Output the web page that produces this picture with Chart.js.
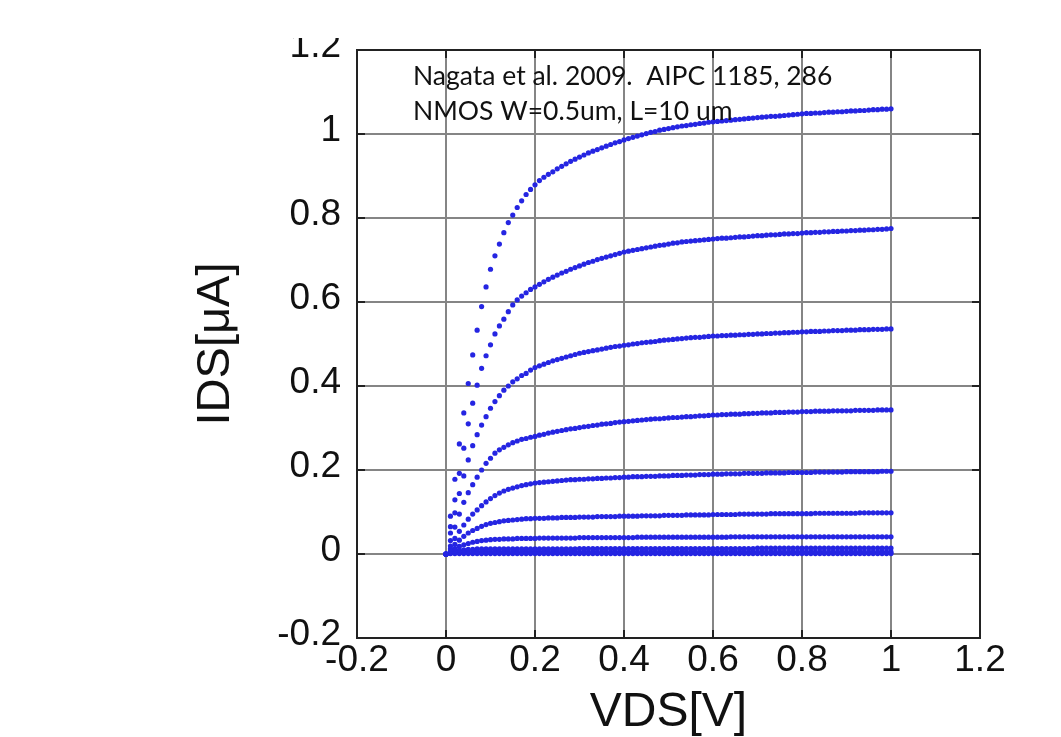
<!DOCTYPE html>
<html><head><meta charset="utf-8">
<script src="https://cdn.jsdelivr.net/npm/chart.js@4.4.0/dist/chart.umd.min.js"></script>
<style>html,body{margin:0;padding:0;background:#fff;}#wrap{width:1061px;height:737px;}</style>
</head><body><div id="wrap"><canvas id="c" width="1061" height="737"></canvas></div>
<script>
const vds = [0,0.01,0.02,0.03,0.04,0.05,0.06,0.07,0.08,0.09,
0.10,0.11,0.12,0.13,0.14,0.15,0.16,0.17,0.18,0.19,
0.20,0.21,0.22,0.23,0.24,0.25,0.26,0.27,0.28,0.29,
0.30,0.31,0.32,0.33,0.34,0.35,0.36,0.37,0.38,0.39,
0.40,0.41,0.42,0.43,0.44,0.45,0.46,0.47,0.48,0.49,
0.50,0.51,0.52,0.53,0.54,0.55,0.56,0.57,0.58,0.59,
0.60,0.61,0.62,0.63,0.64,0.65,0.66,0.67,0.68,0.69,
0.70,0.71,0.72,0.73,0.74,0.75,0.76,0.77,0.78,0.79,
0.80,0.81,0.82,0.83,0.84,0.85,0.86,0.87,0.88,0.89,
0.90,0.91,0.92,0.93,0.94,0.95,0.96,0.97,0.98,0.99,
1.00];
const ids1 = [0,0.090,0.178,0.262,0.336,0.406,0.474,0.533,0.589,0.636,
0.678,0.710,0.738,0.765,0.789,0.807,0.825,0.841,0.856,0.868,
0.879,0.889,0.897,0.904,0.910,0.917,0.923,0.929,0.935,0.940,
0.945,0.950,0.955,0.959,0.963,0.967,0.971,0.975,0.979,0.982,
0.986,0.989,0.992,0.995,0.998,1.001,1.004,1.006,1.009,1.011,
1.013,1.015,1.017,1.019,1.020,1.022,1.023,1.025,1.026,1.028,
1.029,1.030,1.031,1.032,1.033,1.034,1.035,1.036,1.037,1.038,
1.039,1.040,1.041,1.042,1.042,1.043,1.044,1.045,1.046,1.047,
1.048,1.049,1.049,1.050,1.050,1.051,1.052,1.052,1.053,1.053,
1.054,1.055,1.055,1.056,1.056,1.057,1.058,1.058,1.059,1.059,
1.060];
const ids2 = [0,0.065,0.129,0.192,0.252,0.310,0.359,0.402,0.442,0.472,
0.498,0.524,0.543,0.559,0.577,0.593,0.605,0.614,0.622,0.630,
0.636,0.642,0.648,0.654,0.659,0.664,0.669,0.673,0.678,0.682,
0.686,0.690,0.694,0.697,0.701,0.704,0.707,0.710,0.713,0.716,
0.719,0.721,0.723,0.725,0.727,0.729,0.731,0.733,0.735,0.736,
0.738,0.740,0.741,0.743,0.744,0.745,0.746,0.747,0.748,0.749,
0.750,0.751,0.752,0.752,0.753,0.754,0.755,0.755,0.756,0.757,
0.758,0.758,0.759,0.760,0.760,0.761,0.762,0.762,0.763,0.763,
0.764,0.765,0.765,0.766,0.766,0.767,0.767,0.768,0.768,0.769,
0.769,0.770,0.770,0.771,0.771,0.772,0.772,0.773,0.773,0.774,
0.775];
const ids3 = [0,0.050,0.098,0.144,0.186,0.224,0.258,0.284,0.307,0.327,
0.347,0.363,0.377,0.390,0.400,0.410,0.417,0.425,0.430,0.438,
0.444,0.448,0.452,0.456,0.460,0.463,0.466,0.469,0.472,0.475,
0.478,0.480,0.482,0.484,0.486,0.488,0.490,0.492,0.494,0.495,
0.497,0.498,0.500,0.501,0.503,0.504,0.505,0.506,0.508,0.509,
0.510,0.511,0.512,0.513,0.514,0.515,0.516,0.516,0.517,0.518,
0.519,0.519,0.520,0.520,0.521,0.521,0.522,0.522,0.523,0.523,
0.524,0.524,0.525,0.525,0.526,0.526,0.527,0.527,0.528,0.528,
0.529,0.529,0.530,0.530,0.530,0.531,0.531,0.532,0.532,0.532,
0.533,0.533,0.533,0.534,0.534,0.534,0.535,0.535,0.535,0.536,
0.536];
const ids4 = [0,0.032,0.064,0.095,0.123,0.146,0.165,0.183,0.200,0.216,
0.228,0.240,0.248,0.254,0.260,0.265,0.269,0.273,0.275,0.278,
0.280,0.283,0.285,0.288,0.290,0.292,0.294,0.296,0.298,0.299,
0.301,0.303,0.304,0.306,0.307,0.309,0.310,0.311,0.313,0.314,
0.315,0.316,0.317,0.318,0.319,0.320,0.321,0.322,0.322,0.323,
0.324,0.325,0.325,0.326,0.327,0.327,0.328,0.329,0.329,0.330,
0.331,0.331,0.332,0.332,0.333,0.333,0.333,0.334,0.334,0.335,
0.335,0.336,0.336,0.336,0.337,0.337,0.337,0.338,0.338,0.338,
0.339,0.339,0.339,0.340,0.340,0.340,0.340,0.341,0.341,0.341,
0.341,0.341,0.342,0.342,0.342,0.342,0.342,0.343,0.343,0.343,
0.343];
const ids5 = [0,0.019,0.037,0.054,0.069,0.083,0.095,0.105,0.115,0.124,
0.132,0.139,0.145,0.150,0.154,0.157,0.160,0.163,0.165,0.167,
0.169,0.170,0.171,0.172,0.173,0.174,0.175,0.176,0.177,0.177,
0.178,0.178,0.179,0.179,0.180,0.180,0.181,0.181,0.182,0.182,
0.183,0.183,0.184,0.184,0.184,0.185,0.185,0.185,0.186,0.186,
0.186,0.187,0.187,0.187,0.188,0.188,0.188,0.189,0.189,0.189,
0.190,0.190,0.190,0.191,0.191,0.191,0.191,0.192,0.192,0.192,
0.192,0.192,0.193,0.193,0.193,0.193,0.193,0.194,0.194,0.194,
0.194,0.194,0.194,0.195,0.195,0.195,0.195,0.195,0.195,0.195,
0.196,0.196,0.196,0.196,0.196,0.196,0.196,0.196,0.197,0.197,
0.197];
const ids6 = [0,0.012,0.023,0.033,0.042,0.050,0.056,0.061,0.066,0.070,
0.073,0.075,0.077,0.079,0.080,0.081,0.082,0.083,0.084,0.084,
0.085,0.085,0.085,0.086,0.086,0.086,0.087,0.087,0.087,0.087,
0.088,0.088,0.088,0.088,0.089,0.089,0.089,0.089,0.089,0.090,
0.090,0.090,0.090,0.090,0.091,0.091,0.091,0.091,0.091,0.092,
0.092,0.092,0.092,0.092,0.093,0.093,0.093,0.093,0.093,0.093,
0.094,0.094,0.094,0.094,0.094,0.094,0.095,0.095,0.095,0.095,
0.095,0.095,0.095,0.096,0.096,0.096,0.096,0.096,0.096,0.096,
0.096,0.096,0.096,0.097,0.097,0.097,0.097,0.097,0.097,0.097,
0.097,0.097,0.097,0.098,0.098,0.098,0.098,0.098,0.098,0.098,
0.098];
const ids7 = [0,0.007,0.013,0.018,0.022,0.025,0.028,0.030,0.032,0.033,
0.034,0.035,0.035,0.036,0.036,0.036,0.037,0.037,0.037,0.037,
0.037,0.038,0.038,0.038,0.038,0.038,0.038,0.038,0.038,0.038,
0.039,0.039,0.039,0.039,0.039,0.039,0.039,0.039,0.039,0.039,
0.039,0.039,0.039,0.040,0.040,0.040,0.040,0.040,0.040,0.040,
0.040,0.040,0.040,0.040,0.040,0.040,0.040,0.040,0.040,0.040,
0.040,0.040,0.040,0.040,0.041,0.041,0.041,0.041,0.041,0.041,
0.041,0.041,0.041,0.041,0.041,0.041,0.041,0.041,0.041,0.041,
0.041,0.041,0.041,0.041,0.041,0.041,0.041,0.041,0.041,0.041,
0.041,0.041,0.041,0.041,0.041,0.041,0.041,0.041,0.041,0.041,
0.041];
const ids8 = [0,0.004,0.007,0.009,0.010,0.011,0.011,0.012,0.012,0.012,
0.012,0.012,0.012,0.012,0.012,0.012,0.012,0.012,0.012,0.012,
0.012,0.012,0.012,0.012,0.012,0.012,0.012,0.012,0.012,0.012,
0.013,0.013,0.013,0.013,0.013,0.013,0.013,0.013,0.013,0.013,
0.013,0.013,0.013,0.013,0.013,0.013,0.013,0.013,0.013,0.013,
0.013,0.013,0.013,0.013,0.013,0.013,0.013,0.013,0.013,0.013,
0.013,0.013,0.013,0.013,0.013,0.013,0.013,0.013,0.013,0.013,
0.014,0.014,0.014,0.014,0.014,0.014,0.014,0.014,0.014,0.014,
0.014,0.014,0.014,0.014,0.014,0.014,0.014,0.014,0.014,0.014,
0.014,0.014,0.014,0.014,0.014,0.014,0.014,0.014,0.014,0.014,
0.014];
const ids9 = [0,0.002,0.003,0.004,0.004,0.005,0.005,0.005,0.005,0.005,
0.005,0.005,0.005,0.005,0.005,0.005,0.005,0.005,0.005,0.005,
0.005,0.005,0.005,0.005,0.005,0.005,0.005,0.005,0.005,0.005,
0.005,0.005,0.005,0.005,0.005,0.005,0.005,0.005,0.005,0.005,
0.005,0.005,0.005,0.005,0.005,0.005,0.005,0.005,0.005,0.005,
0.005,0.005,0.005,0.005,0.005,0.005,0.005,0.005,0.005,0.005,
0.005,0.005,0.005,0.005,0.005,0.005,0.005,0.005,0.005,0.005,
0.005,0.005,0.005,0.005,0.005,0.005,0.005,0.005,0.005,0.005,
0.005,0.005,0.005,0.005,0.005,0.005,0.005,0.005,0.005,0.005,
0.005,0.005,0.005,0.005,0.005,0.005,0.005,0.005,0.005,0.005,
0.005];
const ids10 = [0,0.001,0.001,0.001,0.001,0.001,0.001,0.001,0.001,0.001,
0.001,0.001,0.001,0.001,0.001,0.001,0.001,0.001,0.001,0.001,
0.001,0.001,0.001,0.001,0.001,0.001,0.001,0.001,0.001,0.001,
0.001,0.001,0.001,0.001,0.001,0.001,0.001,0.001,0.001,0.001,
0.001,0.001,0.001,0.001,0.001,0.001,0.001,0.001,0.001,0.001,
0.001,0.001,0.001,0.001,0.001,0.001,0.001,0.001,0.001,0.001,
0.001,0.001,0.001,0.001,0.001,0.001,0.001,0.001,0.001,0.001,
0.001,0.001,0.001,0.001,0.001,0.001,0.001,0.001,0.001,0.001,
0.001,0.001,0.001,0.001,0.001,0.001,0.001,0.001,0.001,0.001,
0.001,0.001,0.001,0.001,0.001,0.001,0.001,0.001,0.001,0.001,
0.001];
const curves = [ids1, ids2, ids3, ids4, ids5, ids6, ids7, ids8, ids9, ids10];
const xTicks = [-0.2, 0, 0.2, 0.4, 0.6, 0.8, 1, 1.2];
const yTicks = [-0.2, 0, 0.2, 0.4, 0.6, 0.8, 1, 1.2];
const xTitle = "VDS[V]";
const yTitle = "IDS[\u03bcA]";
const noteLines = ["Nagata et al. 2009.  AIPC 1185, 286", "NMOS W=0.5um, L=10 um"];

const BLUE = '#2525e2';
const GRID = '#858585';
const TICKFONT = {family: "'Liberation Sans', Arial, sans-serif", size: 37};

const frame = {
  id: 'frame',
  afterDatasetsDraw(chart) {
    const {ctx, chartArea: a, scales: {x, y}} = chart;
    ctx.save();
    ctx.strokeStyle = '#222';
    ctx.lineWidth = 2;
    ctx.strokeRect(a.left, a.top, a.right - a.left, a.bottom - a.top);
    ctx.beginPath();
    xTicks.forEach(v => {
      const px = x.getPixelForValue(v);
      ctx.moveTo(px, a.bottom); ctx.lineTo(px, a.bottom - 8);
      ctx.moveTo(px, a.top); ctx.lineTo(px, a.top + 8);
    });
    yTicks.forEach(v => {
      const py = y.getPixelForValue(v);
      ctx.moveTo(a.left, py); ctx.lineTo(a.left + 8, py);
      ctx.moveTo(a.right, py); ctx.lineTo(a.right - 8, py);
    });
    ctx.stroke();
    ctx.fillStyle = '#111';
    ctx.font = "26.5px Lato";
    ctx.textBaseline = 'alphabetic';
    ctx.textAlign = 'left';
    noteLines.forEach((t, i) => ctx.fillText(t, a.left + 56, a.top + 35 + i * 35));
    ctx.fillStyle = '#fff';
    ctx.fillRect(0, 0, chart.width, 38);
    ctx.restore();
  }
};

new Chart(document.getElementById('c'), {
  type: 'scatter',
  data: {
    datasets: curves.map((c, k) => ({
      label: 'curve ' + (k + 1),
      data: vds.map((v, i) => ({x: v, y: c[i]})),
      showLine: false,
      pointRadius: 2.6,
      pointBorderWidth: 0,
      pointBackgroundColor: BLUE,
      pointHoverRadius: 2.6
    }))
  },
  options: {
    responsive: false,
    animation: false,
    devicePixelRatio: 1,
    layout: {padding: {left: 188, top: 50, right: 81, bottom: 0}},
    plugins: {legend: {display: false}, tooltip: {enabled: false}},
    scales: {
      x: {
        type: 'linear', min: -0.2, max: 1.2,
        afterBuildTicks: s => { s.ticks = xTicks.map(v => ({value: v})); },
        afterFit: s => { s.height = 99; },
        grid: {color: GRID, lineWidth: 2, drawTicks: false},
        border: {display: false},
        ticks: {color: '#111', font: TICKFONT, padding: 1, maxRotation: 0, autoSkip: false, callback: v => String(v)},
        title: {display: true, text: xTitle, color: '#111', font: {family: "'Liberation Sans', Arial, sans-serif", size: 48, lineHeight: 1.0}, padding: 0}
      },
      y: {
        type: 'linear', min: -0.2, max: 1.2,
        afterBuildTicks: s => { s.ticks = yTicks.map(v => ({value: v})); },
        afterFit: s => { s.width = 169; },
        grid: {color: GRID, lineWidth: 2, drawTicks: false},
        border: {display: false},
        ticks: {color: '#111', font: TICKFONT, padding: 16, labelOffset: -3, autoSkip: false, callback: v => String(v)},
        title: {display: true, text: yTitle, color: '#111', font: {family: "'Liberation Sans', Arial, sans-serif", size: 47, lineHeight: 1.2}, padding: 0}
      }
    }
  },
  plugins: [frame]
});
</script>
</body></html>
